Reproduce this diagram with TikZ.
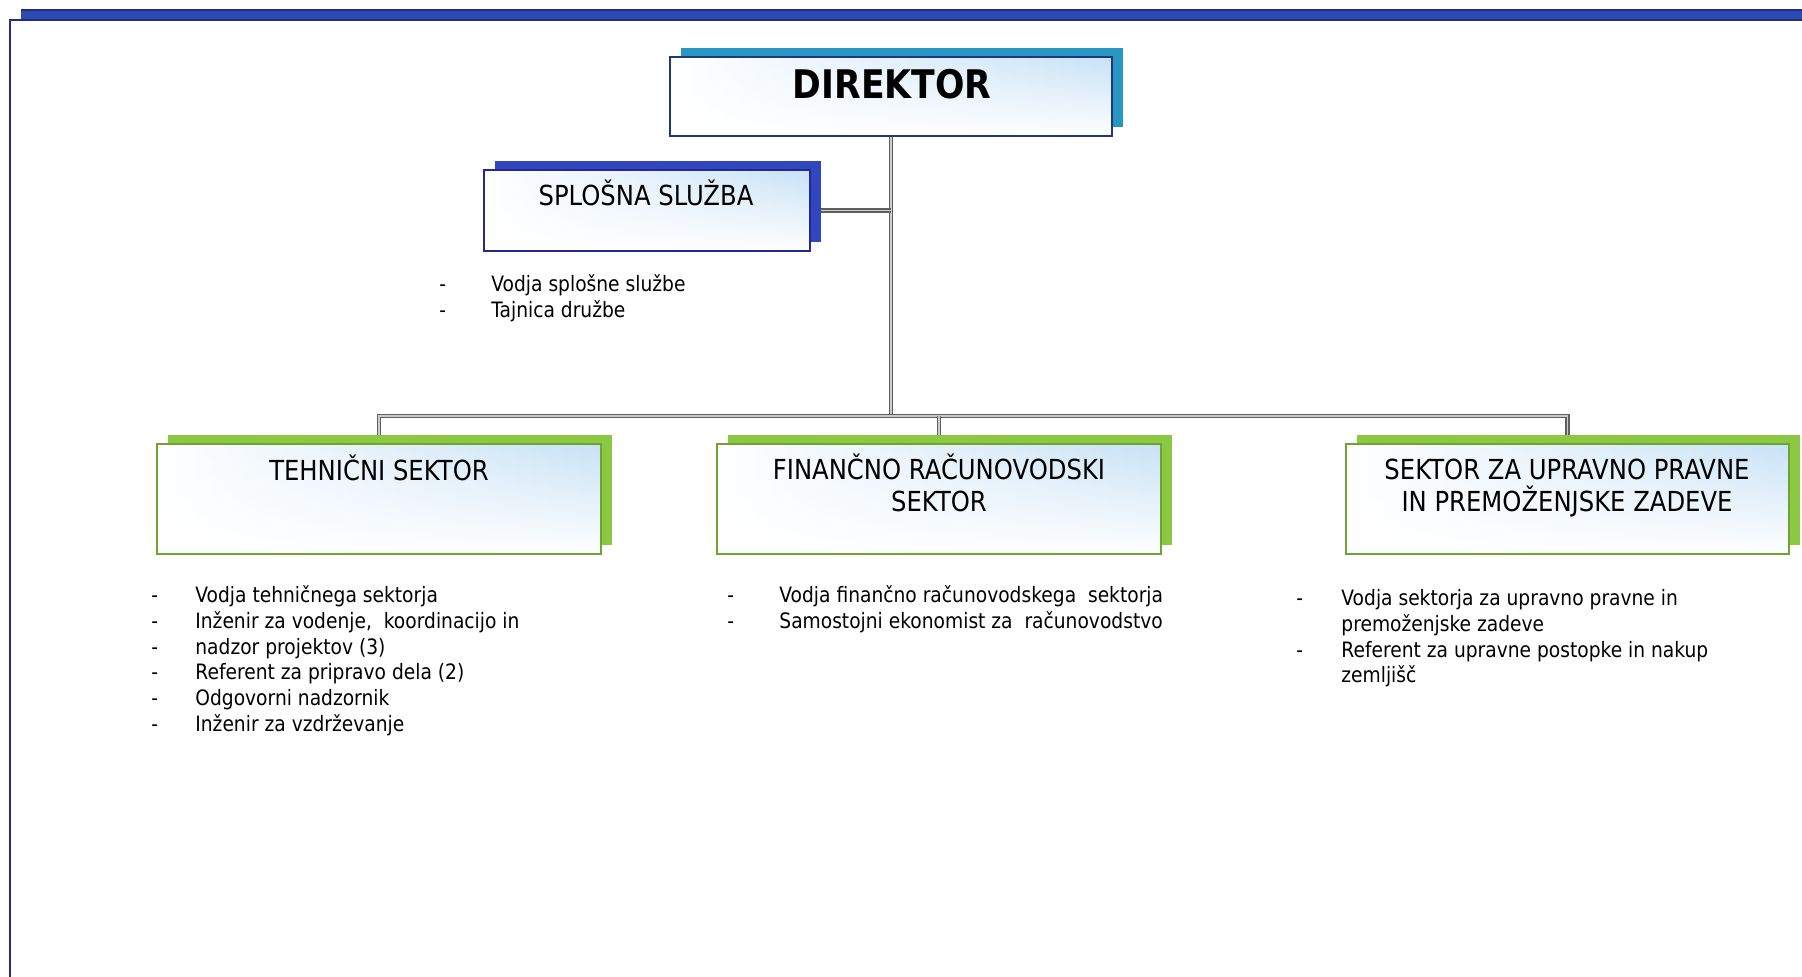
\documentclass[tikz,border=0pt]{standalone}
\usepackage{fontspec}
\setmainfont{DejaVu Sans}[FakeStretch=0.88]
\usetikzlibrary{fadings,calc}
\pgfdeclarelayer{background}
\pgfsetlayers{background,main}
\definecolor{barblue}{RGB}{45,75,175}
\definecolor{framenavy}{RGB}{35,45,130}
\definecolor{dirshadow}{RGB}{40,150,195}
\definecolor{dirborder}{RGB}{30,55,125}
\definecolor{splshadow}{RGB}{50,70,190}
\definecolor{splborder}{RGB}{35,40,150}
\definecolor{secshadow}{RGB}{140,200,65}
\definecolor{secborder}{RGB}{110,165,50}
\definecolor{boxblue}{RGB}{200,226,246}
\definecolor{linegray}{RGB}{95,95,95}
\newcommand\orgbox[7]{%
  \fill[#6] (#2+11,#3-9) rectangle (#4+11,#5-9);
  \shade[left color=white,right color=boxblue] (#2,#3) rectangle (#4,#5);
  \fill[white,path fading=north] (#2,#3) rectangle (#4,#5);
  \node[draw=#7,line width=1pt,inner sep=0pt,outer sep=0pt,anchor=north west,
        minimum width={(#4-#2)*0.5pt},minimum height={(#5-#3)*0.5pt}] (#1) at (#2,#3) {};
}
\tikzset{
  item/.style={anchor=base west,inner sep=0pt,font=\fontsize{10.6}{12.9}\selectfont},
  ttl/.style={anchor=base,inner sep=0pt,font=\fontsize{13.8}{16}\selectfont},
  conn/.style={draw=linegray,line width=0.65pt,double=gray!40,double distance=0.8pt,line join=miter}
}
\begin{document}
\begin{tikzpicture}[x=0.5pt,y=-0.5pt]
\useasboundingbox (0,0) rectangle (1802,977);
\clip (0,0) rectangle (1802,977);
% frame
\fill[barblue] (21,10) rectangle (1830,20);
\draw[framenavy,line width=0.6pt] (21,10) -- (1830,10);
\draw[framenavy,line width=1pt] (10,1000) -- (10,20) -- (1830,20);
% boxes
\orgbox{dir}{670}{57}{1112}{136}{dirshadow}{dirborder}
\orgbox{spl}{484}{170}{810}{251}{splshadow}{splborder}
\orgbox{tech}{157}{444}{601}{554}{secshadow}{secborder}
\orgbox{fin}{717}{444}{1161}{554}{secshadow}{secborder}
\orgbox{sek}{1346}{444}{1789}{554}{secshadow}{secborder}
% titles
\node[font=\bfseries\fontsize{19.7}{22}\selectfont,anchor=base,inner sep=0pt] (tdir) at (892,98.5) {DIREKTOR};
\node[ttl] (tspl) at (646,206) {SPLOŠNA SLUŽBA};
\node[ttl] (ttech) at (379,480.5) {TEHNIČNI SEKTOR};
\node[ttl] (tfin1) at (939,479.5) {FINANČNO RAČUNOVODSKI};
\node[ttl] (tfin2) at (939,511.5) {SEKTOR};
\node[ttl] (tsek1) at (1567,479.5) {SEKTOR ZA UPRAVNO PRAVNE};
\node[ttl] (tsek2) at (1567,511.5) {IN PREMOŽENJSKE ZADEVE};
% lists
\node[item] (ls1) at (439,291.5) {\makebox[26pt][l]{-}Vodja splošne službe};
\node[item] (ls2) at (439,317.5) {\makebox[26pt][l]{-}Tajnica družbe};
\node[item] (lt1) at (151,602.5) {\makebox[22pt][l]{-}Vodja tehničnega sektorja};
\node[item] (lt2) at (151,628.3) {\makebox[22pt][l]{-}Inženir za vodenje,\ \ koordinacijo in};
\node[item] (lt3) at (151,654.1) {\makebox[22pt][l]{-}nadzor projektov (3)};
\node[item] (lt4) at (151,679.9) {\makebox[22pt][l]{-}Referent za pripravo dela (2)};
\node[item] (lt5) at (151,705.7) {\makebox[22pt][l]{-}Odgovorni nadzornik};
\node[item] (lt6) at (151,731.5) {\makebox[22pt][l]{-}Inženir za vzdrževanje};
\node[item] (lf1) at (727,602.5) {\makebox[26pt][l]{-}Vodja finančno računovodskega\ \ sektorja};
\node[item] (lf2) at (727,628.5) {\makebox[26pt][l]{-}Samostojni ekonomist za\ \ računovodstvo};
\node[item] (lk1) at (1296,605.5) {\makebox[22.5pt][l]{-}Vodja sektorja za upravno pravne in};
\node[item] (lk2) at (1296,631.3) {\hspace*{22.5pt}premoženjske zadeve};
\node[item] (lk3) at (1296,657.1) {\makebox[22.5pt][l]{-}Referent za upravne postopke in nakup};
\node[item] (lk4) at (1296,682.9) {\hspace*{22.5pt}zemljišč};
% connectors
\begin{pgfonlayer}{background}
\path (dir.south) ++(0,280) coordinate (bus);
\draw[conn] (dir.south) -- (bus);
\draw[conn] (spl.east) -- (spl.east -| dir.south);
\draw[conn] (tech.north) -- (tech.north |- bus) -- (sek.north |- bus) -- (sek.north);
\draw[conn] (fin.north |- bus) -- (fin.north);
\end{pgfonlayer}
\end{tikzpicture}
\end{document}
